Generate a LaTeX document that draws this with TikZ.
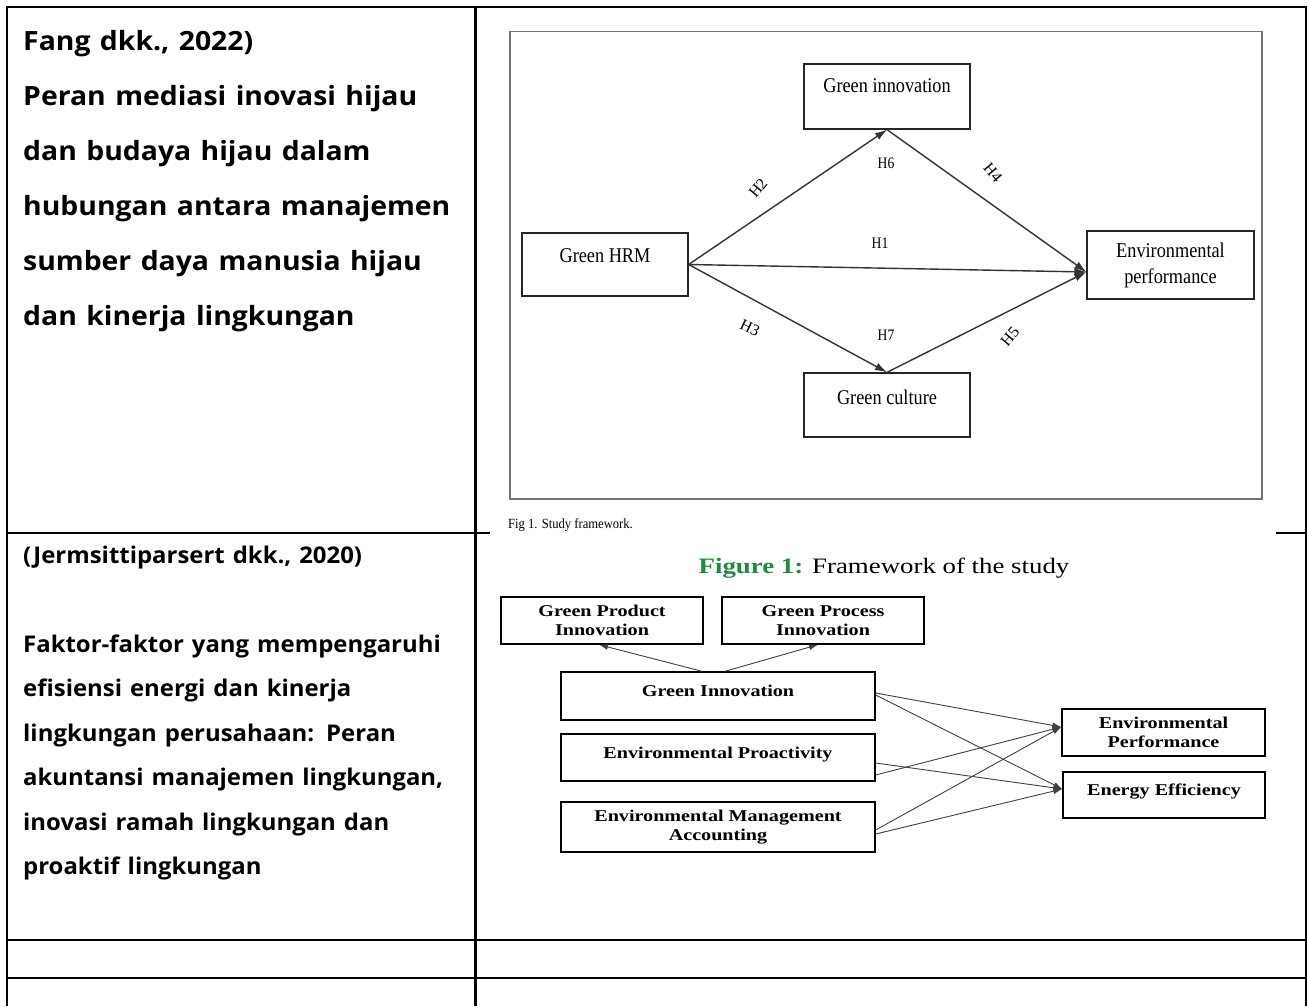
\documentclass[tikz,border=0pt]{standalone}
\usepackage{fontspec}
\setmainfont{Liberation Serif}
\newfontfamily\cellfont{Open Sans}
\usetikzlibrary{arrows.meta,calc}
\definecolor{figgreen}{RGB}{30,140,60}
\definecolor{framegray}{RGB}{115,115,115}
\tikzset{>=latex}
% squeeze or widen a text horizontally
\newcommand{\xsc}[2]{\scalebox{#1}[1]{#2}}
\newcommand{\celline}[1]{\xsc{1.07}{#1}}
\newcommand{\cellrow}[1]{\xsc{1.04}{#1}}

\begin{document}
\begin{tikzpicture}[x=1pt, y=-1pt,
  rule/.style={line width=2.2pt},
  cell/.style={anchor=base west, align=left, inner sep=0pt, text width=450pt},
  hbox/.style={draw=black!85, line width=1.3pt, inner sep=0pt, minimum width=166pt, align=center, font=\fontsize{21}{26}\selectfont},
  hlift/.style={text height=14pt, text depth=#1},
  hlink/.style={-{Latex[length=12pt,width=8pt]}, draw=black!80, line width=1.4pt},
  hlab/.style={inner sep=0pt, font=\fontsize{16}{16}\selectfont},
  fbox/.style={draw, line width=1.4pt, inner sep=0pt, align=center, font=\fontsize{16.5}{19}\selectfont\bfseries},
  flift/.style={text height=11pt, text depth=10pt},
  flink/.style={-{Latex[length=9pt,width=6pt]}, draw=black!75, line width=0.9pt}]
\useasboundingbox (0,0) rectangle (1308,1006);

% table rules
\draw[rule] (7,1006) -- (7,7) -- (1306,7) -- (1306,1006);
\draw[rule] (475.5,7) -- (475.5,1006);
\draw[rule] (7,533) -- (490,533);
\draw[rule] (1276,533) -- (1306,533);
\draw[rule] (7,940) -- (1306,940);
\draw[rule] (7,978) -- (1306,978);

% left column
\node[cell, font=\cellfont\bfseries\fontsize{26.5}{55}\selectfont] (fang) at (23,50.7)
  {\celline{Fang dkk., 2022)}\\\celline{Peran mediasi inovasi hijau}\\\celline{dan budaya hijau dalam}\\\celline{hubungan antara manajemen}\\\celline{sumber daya manusia hijau}\\\celline{dan kinerja lingkungan}};
\node[cell, font=\cellfont\bfseries\fontsize{23}{44.5}\selectfont] (jerm) at (23,563)
  {\cellrow{(Jermsittiparsert dkk., 2020)}\\[44.5pt]\cellrow{Faktor-faktor yang mempengaruhi}\\\cellrow{efisiensi energi dan kinerja}\\\cellrow{lingkungan perusahaan: Peran}\\\cellrow{akuntansi manajemen lingkungan,}\\\cellrow{inovasi ramah lingkungan dan}\\\cellrow{proaktif lingkungan}};

% first framework
\draw[framegray, line width=1.6pt] (510,31.5) rectangle (1262,499);
\node[hbox, minimum height=65pt, hlift=21pt] (gi) at (887,96.5) {\xsc{0.87}{Green innovation}};
\node[hbox, minimum height=63pt, hlift=19pt] (hrm) at (605,264.5) {\xsc{0.87}{Green HRM}};
\node[hbox, minimum height=68pt, minimum width=167pt] (envperf) at (1170.5,265) {\xsc{0.87}{Environmental}\\\xsc{0.87}{performance}};
\node[hbox, minimum height=64pt, hlift=16pt] (gc) at (887,405) {\xsc{0.87}{Green culture}};

\draw[hlink] (hrm.east) -- (gi.south);
\draw[hlink] (hrm.east) -- (gc.north);
\draw[hlink] (hrm.east) -- ([yshift=-7pt]envperf.west);
\draw[hlink] (gi.south) -- ([yshift=-7pt]envperf.west);
\draw[hlink] (gc.north) -- ([yshift=-7pt]envperf.west);

\node[hlab] (h1) at (880,243) {\xsc{0.85}{H1}};
\node[hlab, rotate=50] (h2) at (758,188) {H2};
\node[hlab, rotate=-25] (h3) at (750,328) {H3};
\node[hlab, rotate=-50] (h4) at (993,173) {H4};
\node[hlab, rotate=50] (h5) at (1010,337) {H5};
\node[hlab] (h6) at (886,163) {\xsc{0.85}{H6}};
\node[hlab] (h7) at (886,335) {\xsc{0.85}{H7}};

\node[anchor=base west, inner sep=0pt, font=\fontsize{14}{14}\selectfont] (cap1) at (508,528) {\xsc{0.9}{Fig 1. Study framework.}};

% second framework
\node[anchor=base, inner sep=0pt, font=\fontsize{22}{22}\selectfont] (cap2) at (884,573)
  {\xsc{1.22}{\textcolor{figgreen}{\bfseries Figure 1:} Framework of the study}};

\node[fbox, minimum width=202pt, minimum height=47pt] (gpi) at (602,620.5) {\xsc{1.22}{Green Product}\\\xsc{1.22}{Innovation}};
\node[fbox, minimum width=202pt, minimum height=47pt] (gpc) at (823,620.5) {\xsc{1.22}{Green Process}\\\xsc{1.22}{Innovation}};
\node[fbox, flift, minimum width=314pt, minimum height=48pt] (gin) at (718,696) {\xsc{1.22}{Green Innovation}};
\node[fbox, flift, minimum width=314pt, minimum height=47pt] (epr) at (718,757.5) {\xsc{1.22}{Environmental Proactivity}};
\node[fbox, minimum width=314pt, minimum height=50pt] (ema) at (718,827) {\xsc{1.22}{Environmental Management}\\\xsc{1.22}{Accounting}};
\node[fbox, minimum width=203pt, minimum height=47pt] (envp) at (1163.5,732.5) {\xsc{1.22}{Environmental}\\\xsc{1.22}{Performance}};
\node[fbox, flift, minimum width=202pt, minimum height=46pt] (enef) at (1164,795) {\xsc{1.22}{Energy Efficiency}};

\draw[flink] ([xshift=-16pt]gin.north) -- ([xshift=-3pt]gpi.south);
\draw[flink] ([xshift=7pt]gin.north) -- ([xshift=-5pt]gpc.south);
\draw[flink] ([yshift=3pt]gin.east) -- ([yshift=5.5pt]envp.west);
\draw[flink] ([yshift=1pt]gin.east) -- ([yshift=6pt]enef.west);
\draw[flink] ([yshift=-5.5pt]epr.east) -- ([yshift=6pt]enef.west);
\draw[flink] ([yshift=-17.5pt]epr.east) -- ([yshift=5.5pt]envp.west);
\draw[flink] ([yshift=-3pt]ema.east) -- ([yshift=5.5pt]envp.west);
\draw[flink] ([yshift=-7pt]ema.east) -- ([yshift=6pt]enef.west);
\end{tikzpicture}
\end{document}
